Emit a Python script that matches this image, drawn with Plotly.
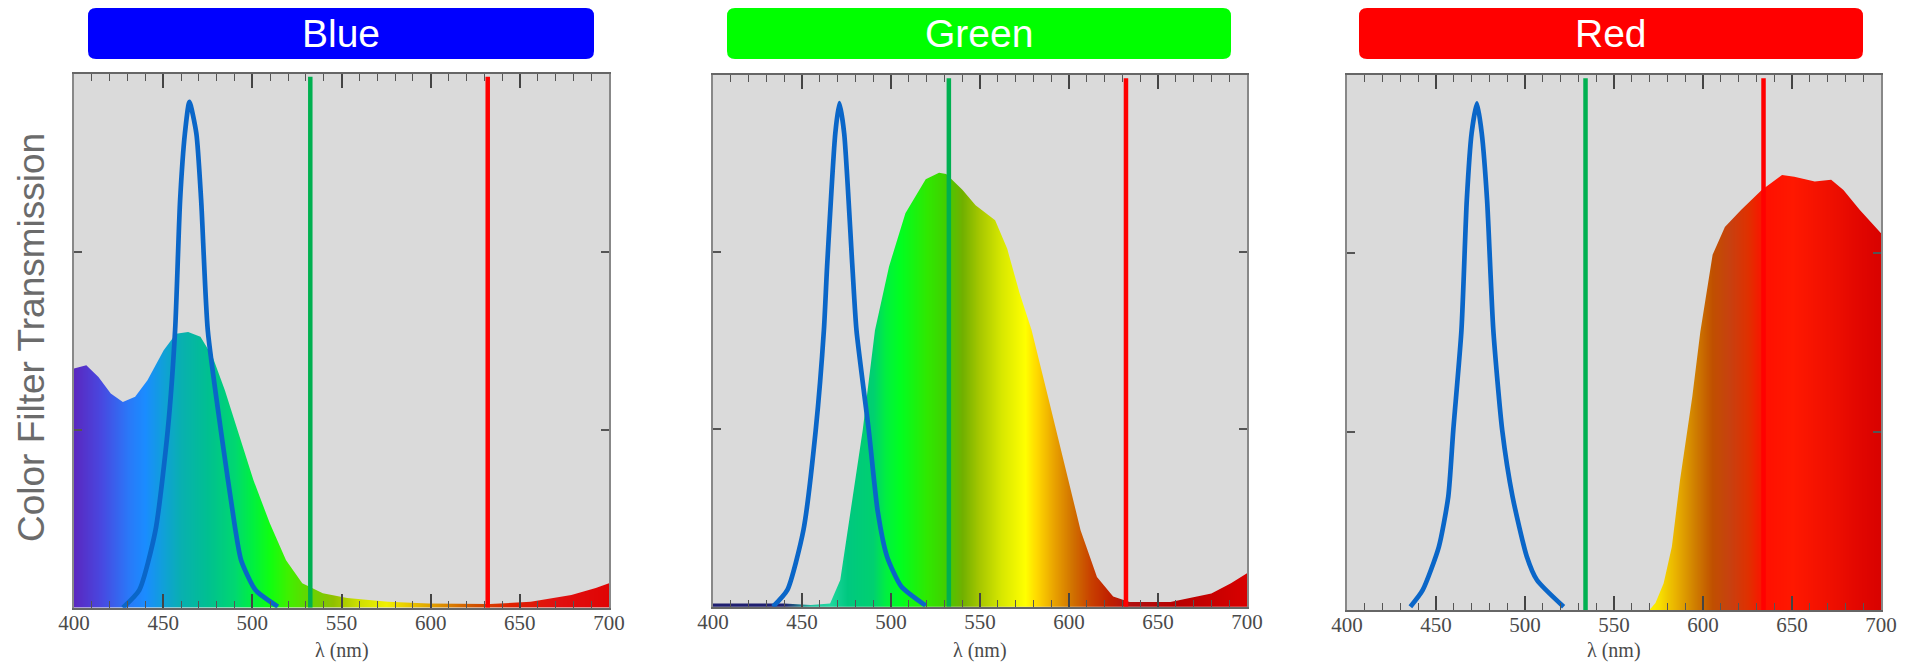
import plotly.graph_objects as go

W, H = 1912, 662
OFF = 8  # page body margin the browser adds around the figure

# ---------------- data ----------------
ticks_nm = [400, 450, 500, 550, 600, 650, 700]
panel_titles = ["Blue", "Green", "Red"]
title_colors = ["#0000ff", "#00ff00", "#ff0000"]
x_title = "λ (nm)"
y_title = "Color Filter Transmission"

# filter transmission curves (fraction of plot height)
blue_filter_nm = [400, 406.9, 413.7, 420.6, 427.4, 434.3, 441.2, 450.3, 457.2, 464.0, 470.9, 477.7,
                  484.6, 491.5, 500.6, 509.8, 518.9, 528.0, 539.5, 553.2, 576.1, 598.9, 633.2,
                  656.1, 678.9, 692.6, 700]
blue_filter_t = [0.448, 0.454, 0.432, 0.401, 0.385, 0.395, 0.426, 0.482, 0.513, 0.516, 0.507, 0.470,
                 0.407, 0.333, 0.239, 0.158, 0.089, 0.046, 0.027, 0.018, 0.011, 0.008, 0.007,
                 0.011, 0.024, 0.037, 0.046]

green_filter_nm = [400, 440, 455, 465.8, 471.5, 478.4, 484.1, 491.0, 498.9, 508.1, 519.5, 527.0, 531.0,
                   540.1, 547.5, 558.5, 565.3, 572.2, 579.0, 588.2, 597.4, 606.5, 615.7, 624.8,
                   634.0, 657.0, 680.0, 691.0, 700]
green_filter_t = [0.006, 0.006, 0.003, 0.006, 0.050, 0.207, 0.332, 0.520, 0.640, 0.740, 0.804, 0.816, 0.814,
                  0.784, 0.755, 0.727, 0.673, 0.590, 0.520, 0.395, 0.270, 0.144, 0.056, 0.019,
                  0.009, 0.009, 0.025, 0.044, 0.063]

red_filter_nm = [400, 565, 569.9, 573.3, 577.9, 582.5, 587.1, 594.0, 598.5, 605.4, 612.3, 621.5, 633.0,
                 644.4, 651.3, 662.8, 672.0, 678.9, 688.0, 694.9, 700]
red_filter_t = [0.0, 0.0, 0.0, 0.013, 0.050, 0.118, 0.243, 0.399, 0.520, 0.664, 0.716, 0.748, 0.785,
                0.813, 0.810, 0.801, 0.804, 0.785, 0.748, 0.723, 0.704]

# blue LED emission curve as drawn on each panel
led1_nm = [427.4, 436.6, 445.7, 452.6, 456.7, 459.5, 462.2, 464.7, 468.6, 471.3, 475.0, 482.3, 490.3, 493.7, 501.8, 514.3]
led1_t = [0.0, 0.033, 0.145, 0.333, 0.520, 0.763, 0.888, 0.947, 0.888, 0.763, 0.520, 0.333, 0.150, 0.089, 0.033, 0.002]
led2_nm = [433.7, 441.7, 450.8, 457.7, 462.3, 464.1, 468.7, 471.0, 473.7, 478.3, 480.6, 487.5, 492.5, 497.8, 505.8, 519.5]
led2_t = [0.0, 0.031, 0.144, 0.332, 0.520, 0.640, 0.890, 0.947, 0.890, 0.640, 0.520, 0.332, 0.180, 0.094, 0.038, 0.002]
led3_nm = [435.6, 442.5, 451.6, 456.9, 459.7, 464.3, 467.3, 470.0, 473.0, 475.7, 478.7, 482.2, 487.2, 493.0, 501.0, 506.7, 521.7]
led3_t = [0.006, 0.037, 0.118, 0.212, 0.336, 0.523, 0.766, 0.891, 0.947, 0.891, 0.766, 0.523, 0.336, 0.212, 0.100, 0.056, 0.006]

# reference laser lines (nm)
green_line_nm = [532.5, 532.5, 534.0]
red_line_nm = [632.0, 632.0, 634.0]

# spectral colour stops for each panel's filled area
spec1_nm = [390, 400, 415, 430, 440, 450, 460, 475, 490, 500, 510, 520, 530, 545, 560, 575, 600, 625, 645, 670, 710]
spec1_col = ["#5a28c0", "#5a28c0", "#4848e0", "#2a78f8", "#1a8cff", "#10a0d8", "#08b0b0", "#00c090",
             "#00d870", "#00f040", "#10ff10", "#40f000", "#60d800", "#90c000", "#d0e000", "#f0f000",
             "#e0a000", "#d05000", "#e02000", "#e01010", "#e00000"]
spec2_nm = [390, 440, 455, 465, 475, 490, 497, 505, 520, 530, 540, 550, 562, 575, 582, 592, 602, 612, 622, 635, 660, 710]
spec2_col = ["#202070", "#202070", "#20c0a0", "#20d8a0", "#00c880", "#00d070", "#00f040", "#00ff20",
             "#30e800", "#40d000", "#70b000", "#a8c800", "#d8e800", "#ffff00", "#ffd800", "#e8a000",
             "#d07000", "#c84000", "#c02000", "#b01010", "#b80000", "#e00000"]
spec3_nm = [390, 565, 575, 585, 595, 605, 615, 625, 635, 650, 670, 690, 710]
spec3_col = ["#ffff00", "#ffff00", "#f8e000", "#e8b000", "#d08000", "#c05000", "#c84010", "#e03000",
             "#ff1000", "#ff1800", "#f01000", "#e00500", "#d00000"]

# ---------------- layout geometry (pixels in the reference page) ----------------
panels_px = [(74, 609, 73.5, 607.7), (713, 1247, 75, 606.7), (1347, 1881, 75, 610)]
boxes_px = [(88, 594), (727, 1231), (1359, 1863)]
box_top, box_bot = 8, 59

BG = "#dadada"
SERIF = "Liberation Serif, Times New Roman, serif"
SANS = "Liberation Sans, Arial, sans-serif"

filters = [(blue_filter_nm, blue_filter_t), (green_filter_nm, green_filter_t), (red_filter_nm, red_filter_t)]
leds = [(led1_nm, led1_t), (led2_nm, led2_t), (led3_nm, led3_t)]
specs = [(spec1_nm, spec1_col), (spec2_nm, spec2_col), (spec3_nm, spec3_col)]

fig = go.Figure()
layout = dict(template="none", width=W, height=H, autosize=False,
              margin=dict(l=0, r=0, t=0, b=0, pad=0, autoexpand=False),
              paper_bgcolor="white", plot_bgcolor=BG, showlegend=False)

grid = list(range(390, 711, 5))
shapes = []
annotations = []


def px(x):
    return (x - OFF) / W


def py(y):
    return 1 - (y - OFF) / H


for i in range(3):
    sfx = "" if i == 0 else str(i + 1)
    xa, ya = "x" + sfx, "y" + sfx
    snm, scol = specs[i]
    lo, hi = snm[0], snm[-1]
    cs = [[(v - lo) / (hi - lo), c] for v, c in zip(snm, scol)]
    fig.add_trace(go.Heatmap(x=grid, y=[-0.1, 1.1], z=[grid, grid], zmin=lo, zmax=hi,
                             colorscale=cs, zsmooth="best", showscale=False,
                             hoverinfo="skip", xaxis=xa, yaxis=ya))
    fnm, ft = filters[i]
    fig.add_trace(go.Scatter(x=list(fnm) + [705, 395], y=list(ft) + [1.1, 1.1],
                             fill="toself", fillcolor=BG, mode="lines",
                             line=dict(width=0, color=BG), hoverinfo="skip",
                             xaxis=xa, yaxis=ya))
    fig.add_trace(go.Scatter(x=[green_line_nm[i]] * 2, y=[0, 0.994], mode="lines",
                             line=dict(color="#00b050", width=4.5), xaxis=xa, yaxis=ya))
    fig.add_trace(go.Scatter(x=[red_line_nm[i]] * 2, y=[0, 0.994], mode="lines",
                             line=dict(color="#ff0000", width=4.5), xaxis=xa, yaxis=ya))
    lnm, lt = leds[i]
    fig.add_trace(go.Scatter(x=lnm, y=lt, mode="lines",
                             line=dict(color="#0a66c8", width=4.7, shape="spline", smoothing=0.6),
                             xaxis=xa, yaxis=ya))

    x0, x1, yt, yb = panels_px[i]
    layout["xaxis" + sfx] = dict(
        domain=[px(x0), px(x1)], anchor=ya, range=[400, 700], automargin=False,
        tickvals=ticks_nm, ticktext=[str(t) for t in ticks_nm],
        ticks="inside", ticklen=14, tickwidth=1.5, tickcolor="#444",
        minor=dict(dtick=10, tick0=400, ticks="inside", ticklen=7, tickwidth=1.2, tickcolor="#555"),
        showline=True, linecolor="#666", linewidth=2, mirror="ticks",
        showgrid=False, zeroline=False, ticklabelstandoff=-5,
        tickfont=dict(family=SERIF, size=21, color="#4a4a4a"),
    )
    layout["yaxis" + sfx] = dict(
        domain=[py(yb), py(yt)], anchor=xa, range=[0, 1], automargin=False,
        tickvals=[1 / 3, 2 / 3], showticklabels=False,
        ticks="inside", ticklen=8, tickwidth=1.5, tickcolor="#555",
        showline=True, linecolor="#888", linewidth=2, mirror="ticks",
        showgrid=False, zeroline=False,
    )
    # x-axis title placed just under the tick labels
    annotations.append(dict(x=(px(x0) + px(x1)) / 2, y=py(650), xref="paper", yref="paper",
                            text=x_title, showarrow=False, xanchor="center", yanchor="middle",
                            font=dict(family=SERIF, size=20, color="#4a4a4a")))

    bx0, bx1 = boxes_px[i]
    rx, ry = 8 / W, 8 / H
    X0, X1, YT, YB = px(bx0), px(bx1), py(box_top), py(box_bot)
    path = (f"M {X0 + rx} {YT} L {X1 - rx} {YT} Q {X1} {YT} {X1} {YT - ry} "
            f"L {X1} {YB + ry} Q {X1} {YB} {X1 - rx} {YB} "
            f"L {X0 + rx} {YB} Q {X0} {YB} {X0} {YB + ry} "
            f"L {X0} {YT - ry} Q {X0} {YT} {X0 + rx} {YT} Z")
    shapes.append(dict(type="path", xref="paper", yref="paper", path=path,
                       fillcolor=title_colors[i], line=dict(width=0), layer="above"))
    annotations.append(dict(x=(X0 + X1) / 2, y=py((box_top + box_bot) / 2), xref="paper", yref="paper",
                            text=panel_titles[i], showarrow=False, xanchor="center", yanchor="middle",
                            font=dict(family=SANS, size=39, color="white")))

annotations.append(dict(x=px(31), y=py(338), xref="paper", yref="paper",
                        text=y_title, textangle=-90, showarrow=False,
                        xanchor="center", yanchor="middle",
                        font=dict(family=SANS, size=37, color="#6b6b6b")))

layout["shapes"] = shapes
layout["annotations"] = annotations
fig.update_layout(**layout)
fig.write_html("out.html")
